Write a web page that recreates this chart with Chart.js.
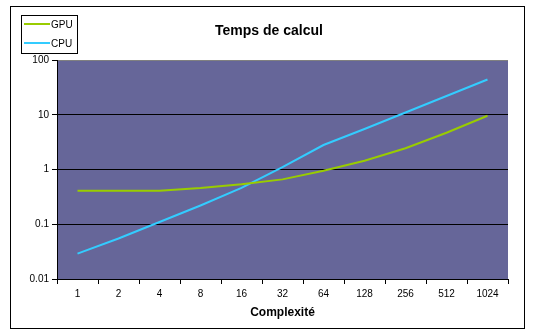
<!DOCTYPE html>
<html>
<head>
<meta charset="utf-8">
<script src="https://cdn.jsdelivr.net/npm/chart.js@4.4.1/dist/chart.umd.min.js"></script>
<style>
html,body{margin:0;padding:0;background:#fff;}
#wrap{width:534px;height:335px;}
</style>
</head>
<body>
<div id="wrap"><canvas id="c" width="534" height="335"></canvas></div>
<script>
const categories = ['1','2','4','8','16','32','64','128','256','512','1024'];
const gpuValues = [0.41, 0.41, 0.41, 0.46, 0.54, 0.66, 0.95, 1.45, 2.45, 4.7, 9.6];
const cpuValues = [0.029, 0.055, 0.11, 0.22, 0.46, 1.1, 2.8, 5.5, 11, 22, 44];
const yTicks = [0.01, 0.1, 1, 10, 100];
const titleText = 'Temps de calcul';
const xTitle = 'Complexité';

const FONT = '"Liberation Sans", Arial, sans-serif';

const decorPlugin = {
  id: 'decor',
  beforeDraw(chart) {
    const ctx = chart.ctx, a = chart.chartArea;
    ctx.save();
    ctx.fillStyle = '#ffffff';
    ctx.fillRect(0, 0, chart.width, chart.height);
    ctx.fillStyle = '#666699';
    ctx.fillRect(a.left, a.top, a.right - a.left, a.bottom - a.top);
    ctx.restore();
  },
  afterDraw(chart) {
    const ctx = chart.ctx;
    ctx.save();
    // outer border
    ctx.strokeStyle = '#000';
    ctx.lineWidth = 1;
    ctx.strokeRect(10.5, 6.5, 514, 322);
    // title
    ctx.fillStyle = '#000';
    ctx.font = 'bold 14px ' + FONT;
    ctx.textAlign = 'center';
    ctx.textBaseline = 'middle';
    ctx.fillText(titleText, 269, 31);
    // legend
    ctx.strokeRect(21.5, 15.5, 56, 38);
    const ys = [24, 43];
    ctx.font = '10px ' + FONT;
    ctx.textAlign = 'left';
    chart.data.datasets.forEach((ds, i) => {
      ctx.strokeStyle = ds.borderColor;
      ctx.lineWidth = 2;
      ctx.beginPath();
      ctx.moveTo(24, ys[i]);
      ctx.lineTo(50, ys[i]);
      ctx.stroke();
      ctx.fillStyle = '#000';
      ctx.fillText(ds.label, 51, ys[i] + 1);
    });
    ctx.restore();
  }
};

new Chart(document.getElementById('c'), {
  type: 'line',
  data: {
    labels: categories,
    datasets: [
      { label: 'GPU', data: gpuValues, borderColor: '#99cc00', borderWidth: 2, pointRadius: 0, tension: 0, fill: false },
      { label: 'CPU', data: cpuValues, borderColor: '#33ccff', borderWidth: 2, pointRadius: 0, tension: 0, fill: false }
    ]
  },
  options: {
    responsive: false,
    animation: false,
    layout: { padding: { left: 10, top: 60, right: 26, bottom: 14 } },
    plugins: { legend: { display: false }, title: { display: false }, tooltip: { enabled: false } },
    scales: {
      x: {
        type: 'category',
        offset: true,
        afterFit(s) { s.height = 42; },
        grid: { offset: true, drawOnChartArea: false, drawTicks: true, tickLength: 5, color: '#000' },
        border: { color: '#000', width: 1 },
        ticks: { color: '#000', font: { family: FONT, size: 10 }, padding: 4, maxRotation: 0, autoSkip: false },
        title: { display: true, text: xTitle, color: '#000', font: { family: FONT, size: 12, weight: 'bold' }, padding: { top: 0, bottom: 1 } }
      },
      y: {
        type: 'logarithmic',
        min: 0.01,
        max: 100,
        afterFit(s) { s.width = 47; },
        afterBuildTicks(s) { s.ticks = yTicks.map(v => ({ value: v })); },
        grid: {
          color: ctx => (ctx.tick && ctx.tick.value === 100) ? '#808080' : '#000',
          tickColor: '#000',
          tickLength: 5,
          drawTicks: true
        },
        border: { color: '#000', width: 1 },
        ticks: { color: '#000', font: { family: FONT, size: 10 }, padding: 3, callback: v => String(v) }
      }
    }
  },
  plugins: [decorPlugin]
});
</script>
</body>
</html>
